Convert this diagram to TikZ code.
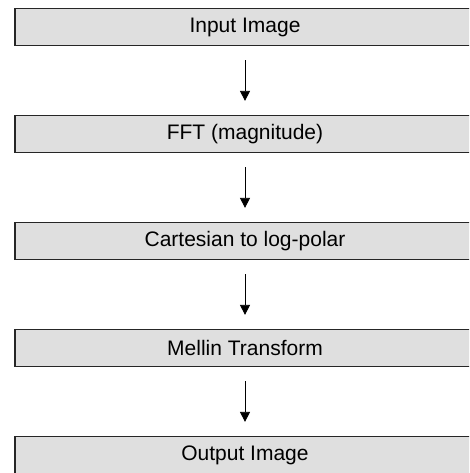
\documentclass[tikz,border=0pt]{standalone}
\usepackage{fontspec}
\setmainfont{Liberation Sans}
\usepackage{tikz}
\usetikzlibrary{arrows.meta, positioning}
\tikzstyle{stage} = [rectangle, minimum width=460pt, minimum height=37pt, text centered, draw=black!85, line width=1.2pt, fill=gray!25, font=\fontsize{21pt}{25pt}\selectfont]
\tikzstyle{arrow} = [line width=0.8pt, -{Triangle[length=10pt,width=10pt]}, shorten <=14pt, shorten >=14pt]

\begin{document}
\begin{tikzpicture}[node distance=107pt]
\useasboundingbox (0,0) rectangle (469pt,-473pt);
\clip (0,0) rectangle (469pt,-473pt);
\node (in1) [stage] at (245pt,-27pt) {Input Image};
\node (fft) [stage, below of=in1] {FFT (magnitude)};
\node (logpol) [stage, below of=fft] {Cartesian to log-polar};
\node (mellin) [stage, below of=logpol] {Mellin Transform};
\node (out1) [stage, below of=mellin] {Output Image};
\draw [arrow] (in1) -- (fft);
\draw [arrow] (fft) -- (logpol);
\draw [arrow] (logpol) -- (mellin);
\draw [arrow] (mellin) -- (out1);
\end{tikzpicture}
\end{document}
